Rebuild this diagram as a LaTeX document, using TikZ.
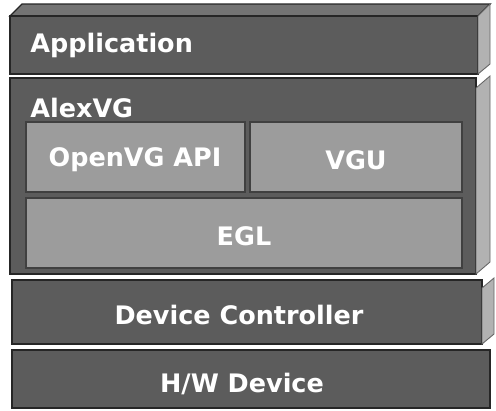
\documentclass[tikz,border=0pt]{standalone}
\usepackage{fontspec}
\setmainfont{DejaVu Sans}

\definecolor{slabgray}{HTML}{5C5C5C}
\definecolor{boxgray}{HTML}{9C9C9C}
\definecolor{sidegray}{HTML}{B2B2B2}
\definecolor{topgray}{HTML}{747474}

\tikzset{
  layer/.style={fill=slabgray, draw=black!85, line width=0.8pt},
  sublayer/.style={fill=boxgray, draw=black!75, line width=0.8pt},
  sideface/.style={fill=sidegray, draw=black!60, line width=0.5pt},
  layertext/.style={text=white, font=\bfseries\fontsize{14.5}{17}\selectfont, inner sep=0pt}
}

\begin{document}
\begin{tikzpicture}[x=0.02cm, y=-0.02cm]
  \useasboundingbox (0,0) rectangle (496,410);

  % Application
  \draw[layer, fill=topgray] (22,4) -- (490,4) -- (478,16) -- (10,16) -- cycle;
  \draw[layer] (10,16) rectangle (478,74);
  \draw[sideface] (478,16) -- (490,4) -- (490,64) -- (478,74) -- cycle;
  \node[layertext, anchor=west] (app) at (30,45) {Application};

  % AlexVG
  \draw[layer] (10,78) rectangle (476,274);
  \draw[sideface] (476,88) -- (490,76) -- (490,262) -- (476,274) -- cycle;
  \node[layertext, anchor=west] (alex) at (30,108) {AlexVG};

  % inside AlexVG
  \draw[sublayer] (26,122) rectangle (245,192);
  \node[layertext] (api) at (135,160) {OpenVG API};
  \draw[sublayer] (250,122) rectangle (462,192);
  \node[layertext] (vgu) at (356,160) {VGU};
  \draw[sublayer] (26,198) rectangle (462,268);
  \node[layertext] (egl) at (244,236) {EGL};

  % Device Controller
  \draw[layer] (12,280) rectangle (482,344);
  \draw[sideface] (482,288) -- (494,278) -- (494,334) -- (482,344) -- cycle;
  \node[layertext] (ctrl) at (239,315) {Device Controller};

  % H/W Device
  \draw[layer] (12,350) rectangle (490,408);
  \node[layertext] (hw) at (242,384) {H/W Device};
\end{tikzpicture}
\end{document}
